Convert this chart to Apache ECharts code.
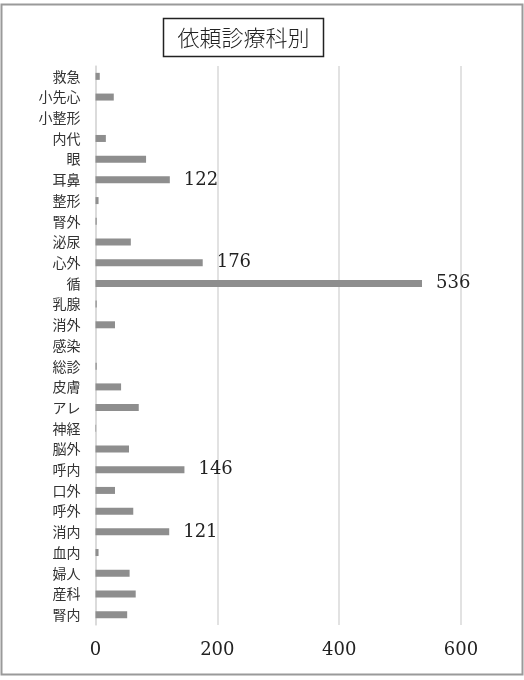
<!DOCTYPE html>
<html>
<head>
<meta charset="utf-8">
<script src="https://cdn.jsdelivr.net/npm/echarts@6/dist/echarts.min.js"></script>
<style>
html,body{margin:0;padding:0;background:#fff;}
#c{width:524px;height:680px;}
</style>
</head>
<body>
<div id="c"></div>
<script>
const titleText = '依頼診療科別';
const categories = ['救急','小先心','小整形','内代','眼','耳鼻','整形','腎外','泌尿','心外','循','乳腺','消外','感染','総診','皮膚','アレ','神経','脳外','呼内','口外','呼外','消内','血内','婦人','産科','腎内'];
const values = [7,30,0,17,83,122,5,2,58,176,536,2,32,0,2,42,71,1,55,146,32,62,121,5,56,66,52];
const labeledCategories = ['耳鼻','心外','循','呼内','消内'];
const xTicks = {min:0, max:600, interval:200};

// categories listed top to bottom; category axis draws bottom to top, so reverse
const cats = categories.slice().reverse();
const vals = values.slice().reverse();
const seriesData = vals.map(function(v,i){
  const show = labeledCategories.indexOf(cats[i]) >= 0;
  return {value:v, label:{show:show}};
});

const chart = echarts.init(document.getElementById('c'));
chart.setOption({
  animation:false,
  backgroundColor:'#fff',
  graphic:[
    {type:'rect', shape:{x:1.5,y:4.5,width:521,height:670}, style:{fill:'none', stroke:'#9a9a9a', lineWidth:2}, silent:true},
    {type:'rect', shape:{x:163.5,y:18.5,width:160,height:38}, style:{fill:'#fff', stroke:'#222', lineWidth:1.5}, silent:true},
    {type:'text', x:243.5, y:38, style:{text:titleText, fill:'#222', font:'300 22px "Noto Sans CJK JP"', align:'center', verticalAlign:'middle'}, silent:true}
  ],
  grid:{left:95.5, right:63, top:66, bottom:55, containLabel:false},
  xAxis:{
    type:'value', min:xTicks.min, max:xTicks.max, interval:xTicks.interval,
    axisLine:{show:false}, axisTick:{show:false},
    splitLine:{show:true, lineStyle:{color:'#d9d9d9', width:1.5}},
    axisLabel:{color:'#222', fontFamily:'DejaVu Serif', fontSize:18, margin:16}
  },
  yAxis:{
    type:'category', data:cats,
    axisLine:{show:true, lineStyle:{color:'#d9d9d9', width:1.5}}, axisTick:{show:false},
    axisLabel:{color:'#333', fontFamily:'Noto Sans CJK JP', fontSize:14, margin:15}
  },
  series:[{
    type:'bar', data:seriesData, barWidth:7,
    itemStyle:{color:'#8e8e8e'},
    label:{position:'right', distance:14, color:'#222', fontFamily:'DejaVu Serif', fontSize:18}
  }]
});
</script>
</body>
</html>
